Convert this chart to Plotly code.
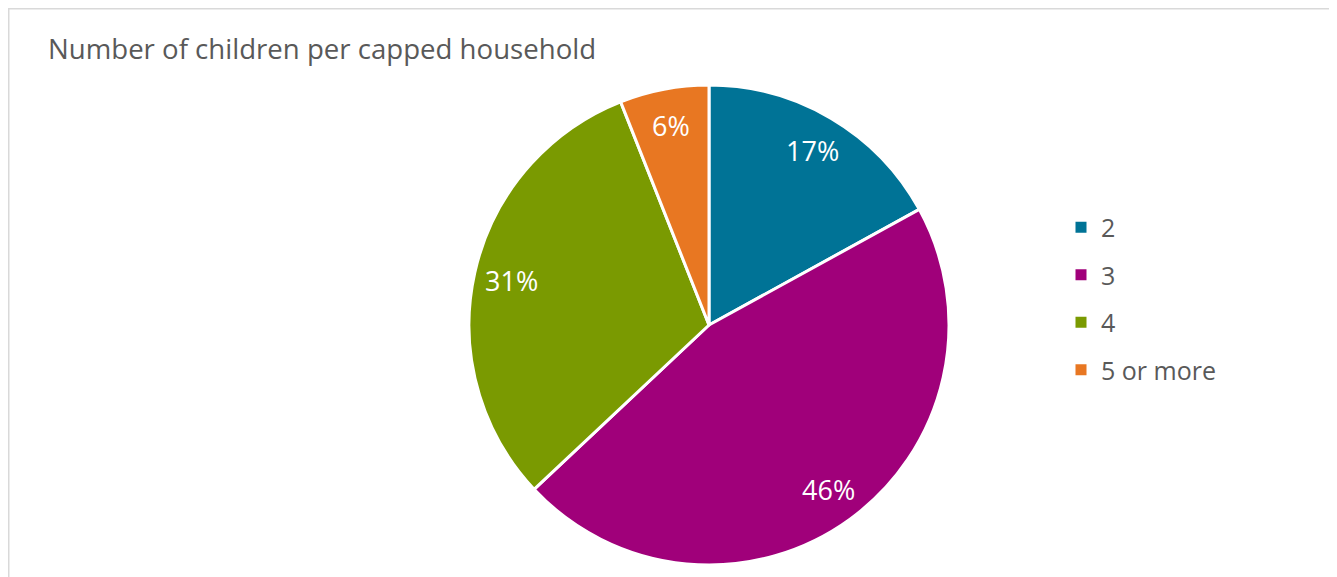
import math
import plotly.graph_objects as go

# Data
labels = ['2', '3', '4', '5 or more']
shares = [17, 46, 31, 6]
colors = ['#007396', '#A0007A', '#7A9A01', '#E87722']

title_text = 'Number of children per capped household'
W, H = 1337, 577
OFF = 8  # page body margin added by the browser

# Pie geometry in page pixels.
cx, cy, R = 709 - OFF, 325 - OFF, 240

fig = go.Figure()

fig.add_trace(go.Pie(
    labels=labels,
    values=shares,
    sort=False,
    direction='clockwise',
    rotation=0,
    marker=dict(colors=colors, line=dict(color='white', width=3)),
    textinfo='none',
    showlegend=False,
    hoverinfo='label+percent',
    domain=dict(x=[(cx - R) / W, (cx + R) / W],
                y=[(H - cy - R) / H, (H - cy + R) / H]),
))

# Percent labels placed along each slice's mid angle (like Excel's layout).
annotations = []
total = sum(shares)
cum = 0
for v in shares:
    mid = (cum + v / 2) / total * 2 * math.pi
    cum += v
    px_ = cx + 0.845 * R * math.sin(mid)
    py_ = cy - 0.845 * R * math.cos(mid)
    annotations.append(dict(
        text=f'{v}%', x=px_ / W, y=1 - py_ / H,
        xref='paper', yref='paper', showarrow=False,
        xanchor='center', yanchor='middle',
        font=dict(size=27, color='white', family='Open Sans'),
    ))

# Legend entries.
for lab, col in zip(labels, colors):
    fig.add_trace(go.Scatter(
        x=[None], y=[None],
        mode='markers',
        marker=dict(symbol='square', size=11, color=col),
        name=lab,
        legendgroup=lab,
        showlegend=True,
    ))

annotations.append(dict(
    text=title_text,
    x=38 / W, y=1 - 40 / H,
    xref='paper', yref='paper',
    xanchor='left', yanchor='middle',
    showarrow=False,
    font=dict(size=27.6, color='#595959', family='Open Sans'),
))

fig.update_layout(
    width=W, height=H,
    margin=dict(l=0, r=0, t=0, b=0),
    paper_bgcolor='white',
    plot_bgcolor='white',
    xaxis=dict(visible=False),
    yaxis=dict(visible=False),
    legend=dict(
        x=1053 / W, xanchor='left',
        y=1 - 290.5 / H, yanchor='middle',
        font=dict(size=25, color='#595959', family='Open Sans'),
        tracegroupgap=12,
        itemwidth=30,
        bgcolor='rgba(0,0,0,0)',
    ),
    annotations=annotations,
    shapes=[dict(
        type='rect', xref='paper', yref='paper',
        x0=0.75 / W, x1=1326 / W, y0=-0.05, y1=1 - 0.75 / H,
        line=dict(color='#d9d9d9', width=1.5),
    )],
)

fig.write_html('out.html')
